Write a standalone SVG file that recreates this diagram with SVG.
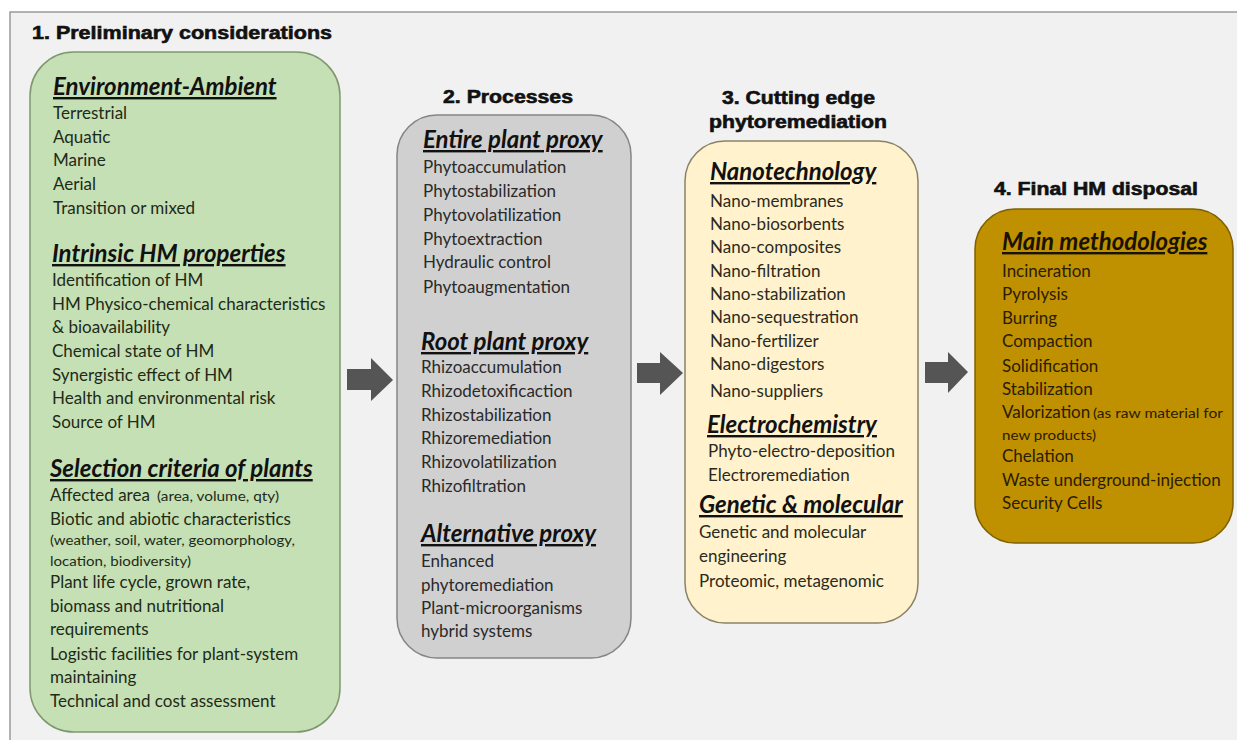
<svg xmlns="http://www.w3.org/2000/svg" width="1237" height="740" viewBox="0 0 1237 740">
<style>
.ttl{font-family:"Liberation Sans",Arial,sans-serif;font-weight:bold;font-size:18px;fill:#111;stroke:#111;stroke-width:0.6}
.hd{font-family:Lato,"Liberation Sans",sans-serif;font-weight:bold;font-style:italic;font-size:24px;fill:#111;text-decoration:underline}
.it{font-family:Lato,"Liberation Sans",sans-serif;font-size:17px}
.sm{font-size:13.5px}
.g .it{fill:#1f2a18}
.p .it{fill:#2a2a2a}
.y .it{fill:#2b2a20}
.o .it{fill:#2a1c00}
.o .hd{fill:#1a1200}
.arrow{fill:#555555}
</style>
<rect x="0" y="0" width="1237" height="740" fill="#ffffff"/>
<rect x="10" y="12" width="1240" height="740" fill="#f1f1f1" stroke="#9a9a9a" stroke-width="1.5"/>

<g id="preliminary" class="g">
<text class="ttl" x="32" y="39" textLength="300" lengthAdjust="spacingAndGlyphs">1. Preliminary considerations</text>
<rect x="30" y="52" width="310" height="680" rx="44" fill="#c5e0b4" stroke="#7f9870" stroke-width="1.5"/>
<text class="hd" x="53" y="95">Environment-Ambient</text>
<text class="it" x="53" y="119">Terrestrial</text>
<text class="it" x="53" y="143">Aquatic</text>
<text class="it" x="53" y="166">Marine</text>
<text class="it" x="53" y="190">Aerial</text>
<text class="it" x="53" y="214">Transition or mixed</text>
<text class="hd" x="52" y="262">Intrinsic HM properties</text>
<text class="it" x="52" y="286">Identification of HM</text>
<text class="it" x="52" y="310">HM Physico-chemical characteristics</text>
<text class="it" x="52" y="333">&amp; bioavailability</text>
<text class="it" x="52" y="357">Chemical state of HM</text>
<text class="it" x="52" y="381">Synergistic effect of HM</text>
<text class="it" x="52" y="404">Health and environmental risk</text>
<text class="it" x="52" y="428">Source of HM</text>
<text class="hd" x="50" y="477">Selection criteria of plants</text>
<text class="it" x="50" y="501">Affected area</text>
<text class="it sm" x="157" y="501" textLength="122" lengthAdjust="spacingAndGlyphs">(area, volume, qty)</text>
<text class="it" x="50" y="525">Biotic and abiotic characteristics</text>
<text class="it sm" x="50" y="545" textLength="245" lengthAdjust="spacingAndGlyphs">(weather, soil, water, geomorphology,</text>
<text class="it sm" x="50" y="566" textLength="141" lengthAdjust="spacingAndGlyphs">location, biodiversity)</text>
<text class="it" x="50" y="588">Plant life cycle, grown rate,</text>
<text class="it" x="50" y="612">biomass and nutritional</text>
<text class="it" x="50" y="635">requirements</text>
<text class="it" x="50" y="660">Logistic facilities for plant-system</text>
<text class="it" x="50" y="683">maintaining</text>
<text class="it" x="50" y="707">Technical and cost assessment</text>
</g>

<g id="processes" class="p">
<text class="ttl" x="443" y="103" textLength="130" lengthAdjust="spacingAndGlyphs">2. Processes</text>
<rect x="397" y="115" width="234" height="543" rx="40" fill="#d0d0d0" stroke="#858585" stroke-width="1.5"/>
<text class="hd" x="423" y="148">Entire plant proxy</text>
<text class="it" x="423" y="173">Phytoaccumulation</text>
<text class="it" x="423" y="197">Phytostabilization</text>
<text class="it" x="423" y="221">Phytovolatilization</text>
<text class="it" x="423" y="245">Phytoextraction</text>
<text class="it" x="423" y="268">Hydraulic control</text>
<text class="it" x="423" y="293">Phytoaugmentation</text>
<text class="hd" x="421" y="350">Root plant proxy</text>
<text class="it" x="421" y="373">Rhizoaccumulation</text>
<text class="it" x="421" y="397">Rhizodetoxificaction</text>
<text class="it" x="421" y="421">Rhizostabilization</text>
<text class="it" x="421" y="444">Rhizoremediation</text>
<text class="it" x="421" y="468">Rhizovolatilization</text>
<text class="it" x="421" y="492">Rhizofiltration</text>
<text class="hd" x="421" y="542">Alternative proxy</text>
<text class="it" x="421" y="567">Enhanced</text>
<text class="it" x="421" y="591">phytoremediation</text>
<text class="it" x="421" y="614">Plant-microorganisms</text>
<text class="it" x="421" y="637">hybrid systems</text>
</g>

<g id="cutting-edge" class="y">
<text class="ttl" x="722" y="104" textLength="153" lengthAdjust="spacingAndGlyphs">3. Cutting edge</text>
<text class="ttl" x="709" y="128" textLength="178" lengthAdjust="spacingAndGlyphs">phytoremediation</text>
<rect x="685" y="141" width="233" height="482" rx="40" fill="#fff2cc" stroke="#8a8266" stroke-width="1.5"/>
<text class="hd" x="710" y="180">Nanotechnology</text>
<text class="it" x="710" y="207">Nano-membranes</text>
<text class="it" x="710" y="230">Nano-biosorbents</text>
<text class="it" x="710" y="253">Nano-composites</text>
<text class="it" x="710" y="277">Nano-filtration</text>
<text class="it" x="710" y="300">Nano-stabilization</text>
<text class="it" x="710" y="323">Nano-sequestration</text>
<text class="it" x="710" y="347">Nano-fertilizer</text>
<text class="it" x="710" y="370">Nano-digestors</text>
<text class="it" x="710" y="397">Nano-suppliers</text>
<text class="hd" x="707" y="433">Electrochemistry</text>
<text class="it" x="708" y="457">Phyto-electro-deposition</text>
<text class="it" x="708" y="481">Electroremediation</text>
<text class="hd" x="699" y="513">Genetic &amp; molecular</text>
<text class="it" x="699" y="538">Genetic and molecular</text>
<text class="it" x="699" y="562">engineering</text>
<text class="it" x="699" y="587">Proteomic, metagenomic</text>
</g>

<g id="final-disposal" class="o">
<text class="ttl" x="994" y="195" textLength="204" lengthAdjust="spacingAndGlyphs">4. Final HM disposal</text>
<rect x="975" y="209" width="258" height="334" rx="40" fill="#bf9000" stroke="#7f6000" stroke-width="1.5"/>
<text class="hd" x="1002" y="250">Main methodologies</text>
<text class="it" x="1002" y="277">Incineration</text>
<text class="it" x="1002" y="300">Pyrolysis</text>
<text class="it" x="1002" y="324">Burring</text>
<text class="it" x="1002" y="347">Compaction</text>
<text class="it" x="1002" y="372">Solidification</text>
<text class="it" x="1002" y="395">Stabilization</text>
<text class="it" x="1002" y="418">Valorization</text>
<text class="it sm" x="1093" y="418" textLength="130" lengthAdjust="spacingAndGlyphs">(as raw material for</text>
<text class="it sm" x="1002" y="440" textLength="94" lengthAdjust="spacingAndGlyphs">new products)</text>
<text class="it" x="1002" y="462">Chelation</text>
<text class="it" x="1002" y="486">Waste underground-injection</text>
<text class="it" x="1002" y="509">Security Cells</text>
</g>

<g id="connectors">
<polygon class="arrow" points="347,369 371,369 371,358 393,380 371,401 371,390 347,390"/>
<polygon class="arrow" points="637,363 660,363 660,352 683,373 660,395 660,383 637,383"/>
<polygon class="arrow" points="925,362 948,362 948,352 968,372 948,393 948,383 925,383"/>
</g>
</svg>
